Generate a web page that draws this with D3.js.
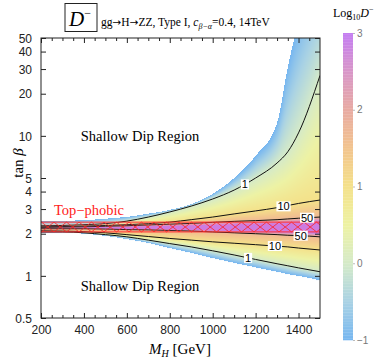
<!DOCTYPE html>
<html>
<head>
<meta charset="utf-8">
<script src="https://cdn.jsdelivr.net/npm/d3@7"></script>
<style>
  body { margin: 0; background: #fff; }
  svg { display: block; }
  .serif { font-family: "Liberation Serif", "DejaVu Serif", serif; }
  .sans { font-family: "Liberation Sans", Arial, sans-serif; }
</style>
</head>
<body>
<div id="chart"></div>
<script>
// M_H grid (GeV) and tan(beta) of each contour
var mhGrid    = [200, 300, 400, 500, 600, 700, 800, 900, 1000, 1100, 1200, 1300, 1350, 1400, 1500];
var lowerCut  = [2.04, 2.03, 2.00, 1.93, 1.83, 1.72, 1.58, 1.46, 1.34, 1.24, 1.15, 1.07, 1.03, 1.00, 0.93];
var lower1    = [2.06, 2.06, 2.03, 1.97, 1.90, 1.80, 1.70, 1.61, 1.51, 1.41, 1.31, 1.22, 1.18, 1.14, 1.07];
var lower10   = [2.10, 2.09, 2.07, 2.03, 1.97, 1.91, 1.85, 1.80, 1.75, 1.71, 1.67, 1.63, 1.61, 1.58, 1.53];
var lower50   = [2.17, 2.17, 2.17, 2.16, 2.14, 2.13, 2.11, 2.09, 2.06, 2.03, 2.00, 1.97, 1.95, 1.94, 1.90];
var centerTb  = [2.20, 2.20, 2.20, 2.20, 2.20, 2.20, 2.19, 2.19, 2.19, 2.18, 2.18, 2.18, 2.18, 2.18, 2.18];
var upper50   = [2.22, 2.23, 2.24, 2.26, 2.28, 2.31, 2.34, 2.37, 2.41, 2.45, 2.48, 2.52, 2.55, 2.58, 2.63];
var upper10   = [2.24, 2.25, 2.27, 2.29, 2.32, 2.36, 2.42, 2.52, 2.63, 2.77, 2.91, 3.07, 3.18, 3.29, 3.48];
var upper1    = [2.28, 2.29, 2.32, 2.36, 2.46, 2.63, 2.86, 3.15, 3.54, 4.10, 5.00, 6.40, 7.70, 10.5, 27.0];
var upperCut  = [2.45, 2.47, 2.50, 2.56, 2.64, 2.78, 2.96, 3.26, 3.85, 5.00, 7.20, 12.4, 31.0, 65.0, 150];
var peakLog   = [3.0, 3.2, 3.4, 3.6, 3.8, 4.0, 4.2, 4.3, 4.4, 4.5, 4.5, 4.5, 4.5, 4.5, 4.5];

// log10 D at each contour (bottom to top)
var nodeLogs = [-1, 0, 1, Math.log10(50), null, Math.log10(50), 1, 0, -1];

var topPhobic = [2.06, 2.42];

var contourLabels = [
  {name: "1",  curve: "upper1",  mh: 1150},
  {name: "10", curve: "upper10", mh: 1330},
  {name: "50", curve: "upper50", mh: 1440},
  {name: "50", curve: "lower50", mh: 1410},
  {name: "10", curve: "lower10", mh: 1290},
  {name: "1",  curve: "lower1",  mh: 1165}
];

var xTicks = [200, 400, 600, 800, 1000, 1200, 1400];
var yTicks = [0.5, 1, 2, 3, 4, 5, 10, 20, 30, 40, 50];
var cbTicks = [-1, 0, 1, 2, 3];
var cbStops = [-1, -0.5, 0, 0.5, 1, 1.5, 2, 2.5, 3];
var cbColors = ["#76b6f0", "#a9d2e4", "#d5eac8", "#edf2a4", "#f4e18a", "#f2c48e", "#e8aaa2", "#d896c8", "#c47ef2"];

var W = 382, H = 359;
var L = 41, R = 320, T = 38, B = 318;

var svg = d3.select("#chart").append("svg")
    .attr("width", W)
    .attr("height", H);

var x = d3.scaleLinear().domain([200, 1500]).range([L, R]);
var y = d3.scaleLog().domain([0.5, 50]).range([B, T]);
var color = d3.scaleLinear().domain(cbStops).range(cbColors).clamp(true);

// monotone cubic, same as d3.curveMonotoneX
function monotone(xs, ys) {
  var n = xs.length, h = [], s = [], m = [];
  for (var i = 0; i < n - 1; i++) { h[i] = xs[i + 1] - xs[i]; s[i] = (ys[i + 1] - ys[i]) / h[i]; }
  for (var i = 1; i < n - 1; i++) {
    var p = (s[i - 1] * h[i] + s[i] * h[i - 1]) / (h[i - 1] + h[i]);
    m[i] = (Math.sign(s[i - 1]) + Math.sign(s[i])) * Math.min(Math.abs(s[i - 1]), Math.abs(s[i]), 0.5 * Math.abs(p)) || 0;
  }
  m[0] = (3 * s[0] - m[1]) / 2;
  m[n - 1] = (3 * s[n - 2] - m[n - 2]) / 2;
  return function(v) {
    var i = 0;
    while (i < n - 2 && v > xs[i + 1]) i++;
    var t = (v - xs[i]) / h[i], t2 = t * t, t3 = t2 * t;
    return (2 * t3 - 3 * t2 + 1) * ys[i] + (t3 - 2 * t2 + t) * h[i] * m[i] +
           (-2 * t3 + 3 * t2) * ys[i + 1] + (t3 - t2) * h[i] * m[i + 1];
  };
}

var curves = {lowerCut: lowerCut, lower1: lower1, lower10: lower10, lower50: lower50, centerTb: centerTb,
              upper50: upper50, upper10: upper10, upper1: upper1, upperCut: upperCut};
var px = mhGrid.map(function(d) { return x(d); });
var interp = {};
Object.keys(curves).forEach(function(k) {
  interp[k] = monotone(px, curves[k].map(function(d) { return y(d); }));
});
var peakAt = monotone(px, peakLog);
var order = ["lowerCut", "lower1", "lower10", "lower50", "centerTb", "upper50", "upper10", "upper1", "upperCut"];

// heat map cells, one per pixel
var cells = [];
for (var cx = L; cx < R; cx++) {
  var xc = cx + 0.5;
  var ny = order.map(function(k) { return interp[k](xc); });
  var nv = nodeLogs.map(function(v) { return v === null ? peakAt(xc) : v; });
  var yTop = Math.max(T, Math.floor(ny[8])), yBot = Math.min(B, Math.ceil(ny[0]));
  for (var cy = yTop; cy < yBot; cy++) {
    var yc = cy + 0.5;
    if (yc > ny[0] || yc < ny[8]) continue;
    var j = 0;
    while (j < 7 && yc < ny[j + 1]) j++;
    var f = (ny[j] - yc) / (ny[j] - ny[j + 1]);
    cells.push({mh: x.invert(cx), tb: y.invert(cy), v: nv[j] + f * (nv[j + 1] - nv[j])});
  }
}

svg.append("defs").append("clipPath").attr("id", "plotClip")
  .append("rect").attr("x", L).attr("y", T).attr("width", R - L).attr("height", B - T);

var plot = svg.append("g").attr("clip-path", "url(#plotClip)");

plot.append("g").selectAll("rect")
    .data(cells)
  .enter().append("rect")
    .attr("x", function(d) { return x(d.mh); })
    .attr("y", function(d) { return y(d.tb); })
    .attr("width", 1.05)
    .attr("height", 1.05)
    .attr("fill", function(d) { return color(d.v); });

// contour lines
var contourKeys = ["upper1", "upper10", "upper50", "lower50", "lower10", "lower1"];
var line = d3.line()
    .x(function(d) { return x(d[0]); })
    .y(function(d) { return y(d[1]); })
    .curve(d3.curveMonotoneX);

contourKeys.forEach(function(k) {
  plot.append("path")
      .datum(mhGrid.map(function(m, i) { return [m, curves[k][i]]; }))
      .attr("fill", "none")
      .attr("stroke", "#111")
      .attr("stroke-width", 1)
      .attr("d", line);
});

// top-phobic band
var bandTop = y(topPhobic[1]), bandBot = y(topPhobic[0]);
plot.append("rect")
    .attr("x", L).attr("y", bandTop)
    .attr("width", R - L).attr("height", bandBot - bandTop)
    .attr("fill", "#ff7090").attr("fill-opacity", 0.18);
var hatch = plot.append("g").attr("stroke", "#ff2020").attr("stroke-width", 0.8);
for (var hx = L - 12; hx < R; hx += 12.5) {
  hatch.append("line").attr("x1", hx).attr("y1", bandTop).attr("x2", hx + 12.5).attr("y2", bandBot);
  hatch.append("line").attr("x1", hx + 12.5).attr("y1", bandTop).attr("x2", hx).attr("y2", bandBot);
}
[bandTop, bandBot].forEach(function(yy) {
  plot.append("line").attr("x1", L).attr("x2", R).attr("y1", yy).attr("y2", yy)
      .attr("stroke", "#ff3030").attr("stroke-width", 1);
});

// contour labels
contourLabels.forEach(function(c) {
  var lx = x(c.mh), ly = interp[c.curve](lx);
  var g = plot.append("g");
  var t = g.append("text").attr("class", "sans")
      .attr("x", lx).attr("y", ly + 4)
      .attr("text-anchor", "middle")
      .attr("font-size", 11)
      .text(c.name);
  var bb = t.node().getBBox();
  g.insert("rect", "text")
      .attr("x", bb.x - 1).attr("y", bb.y + 1)
      .attr("width", bb.width + 2).attr("height", bb.height - 2)
      .attr("fill", "#fff");
});

// region texts
svg.append("text").attr("class", "serif")
    .attr("x", 140).attr("y", 141).attr("text-anchor", "middle")
    .attr("font-size", 14.5).text("Shallow Dip Region");
svg.append("text").attr("class", "serif")
    .attr("x", 140).attr("y", 291).attr("text-anchor", "middle")
    .attr("font-size", 14.5).text("Shallow Dip Region");
svg.append("text").attr("class", "serif")
    .attr("x", 54).attr("y", 215)
    .attr("font-size", 14.5).attr("fill", "#ff2020").text("Top\u2212phobic");

// frame and ticks
svg.append("rect").attr("x", L).attr("y", T).attr("width", R - L).attr("height", B - T)
    .attr("fill", "none").attr("stroke", "#222").attr("stroke-width", 1);

var xAxisB = d3.axisBottom(x).tickValues(xTicks).tickSize(-5).tickPadding(7)
    .tickFormat(d3.format("d"));
var gx = svg.append("g").attr("transform", "translate(0," + B + ")").call(xAxisB);
var xMinor = d3.range(250, 1500, 50).filter(function(d) { return d % 200 !== 0; });
svg.append("g").attr("transform", "translate(0," + B + ")")
    .call(d3.axisBottom(x).tickValues(xMinor).tickSize(-3).tickFormat(""));
svg.append("g").attr("transform", "translate(0," + T + ")")
    .call(d3.axisTop(x).tickValues(xTicks).tickSize(-5).tickFormat(""));
svg.append("g").attr("transform", "translate(0," + T + ")")
    .call(d3.axisTop(x).tickValues(xMinor).tickSize(-3).tickFormat(""));

var gy = svg.append("g").attr("transform", "translate(" + L + ",0)")
    .call(d3.axisLeft(y).tickValues(yTicks).tickSize(-5).tickPadding(9)
      .tickFormat(function(d) { return d; }));
svg.append("g").attr("transform", "translate(" + R + ",0)")
    .call(d3.axisRight(y).tickValues(yTicks).tickSize(-5).tickFormat(""));

svg.selectAll(".domain").remove();
svg.selectAll(".tick line").attr("stroke", "#222");
svg.selectAll(".tick text").attr("font-family", "Liberation Sans, Arial, sans-serif")
    .attr("font-size", 12).attr("fill", "#222");
gy.selectAll(".tick text").attr("dy", "0.35em");

// axis titles
svg.append("text").attr("class", "serif")
    .attr("transform", "translate(23,163) rotate(-90)")
    .attr("text-anchor", "middle").attr("font-size", 15)
    .html("tan <tspan font-style='italic'>\u03b2</tspan>");
var xt = svg.append("text").attr("class", "serif")
    .attr("x", 180).attr("y", 354).attr("text-anchor", "middle").attr("font-size", 15);
xt.append("tspan").attr("font-style", "italic").text("M");
xt.append("tspan").attr("font-style", "italic").attr("font-size", 10).attr("dy", 3).text("H");
xt.append("tspan").attr("dy", -3).text(" [GeV]");

// title
svg.append("rect").attr("x", 65).attr("y", 3.5).attr("width", 32).attr("height", 28)
    .attr("fill", "none").attr("stroke", "#222").attr("stroke-width", 1);
var dt = svg.append("text").attr("class", "serif").attr("x", 69).attr("y", 26).attr("font-size", 21);
dt.append("tspan").attr("font-style", "italic").text("D");
dt.append("tspan").attr("font-size", 12).attr("dy", -9).text("\u2212");
var tt = svg.append("text").attr("class", "serif").attr("x", 101).attr("y", 26).attr("font-size", 11.5);
tt.append("tspan").text("gg");
tt.append("tspan").attr("font-family", "DejaVu Sans").attr("font-size", 10.5).text("\u2192");
tt.append("tspan").text("H");
tt.append("tspan").attr("font-family", "DejaVu Sans").attr("font-size", 10.5).text("\u2192");
tt.append("tspan").text("ZZ, Type I, ");
tt.append("tspan").attr("font-style", "italic").text("c");
tt.append("tspan").attr("font-style", "italic").attr("font-size", 8).attr("dy", 2.5).text("\u03b2\u2212\u03b1");
tt.append("tspan").attr("dy", -2.5).text("=0.4, 14TeV");

// colour bar
var cb = d3.scaleLinear().domain([-1, 3]).range([340, 33]);
var cbX = 343, cbW = 10;
var cbVals = d3.range(-1, 3, 0.02);
svg.append("g").selectAll("rect")
    .data(cbVals)
  .enter().append("rect")
    .attr("x", cbX)
    .attr("y", function(d) { return cb(d + 0.02); })
    .attr("width", cbW)
    .attr("height", function(d) { return cb(d) - cb(d + 0.02) + 0.3; })
    .attr("fill", function(d) { return color(d + 0.01); });
var gcb = svg.append("g").attr("transform", "translate(" + (cbX + cbW) + ",0)")
    .call(d3.axisRight(cb).tickValues(cbTicks).tickSize(2).tickPadding(2)
      .tickFormat(function(d) { return d < 0 ? "\u2212" + Math.abs(d) : d; }));
gcb.select(".domain").remove();
gcb.selectAll(".tick line").attr("stroke", "#bbb");
gcb.selectAll(".tick text").attr("font-family", "Liberation Sans, Arial, sans-serif")
    .attr("font-size", 10).attr("fill", "#777");
var ct = svg.append("text").attr("class", "serif").attr("x", 333).attr("y", 17).attr("font-size", 12);
ct.append("tspan").text("Log");
ct.append("tspan").attr("font-size", 8).attr("dy", 3).text("10");
ct.append("tspan").attr("font-style", "italic").attr("dy", -3).text("D");
ct.append("tspan").attr("font-size", 8).attr("dy", -5).text("\u2212");
</script>
</body>
</html>
